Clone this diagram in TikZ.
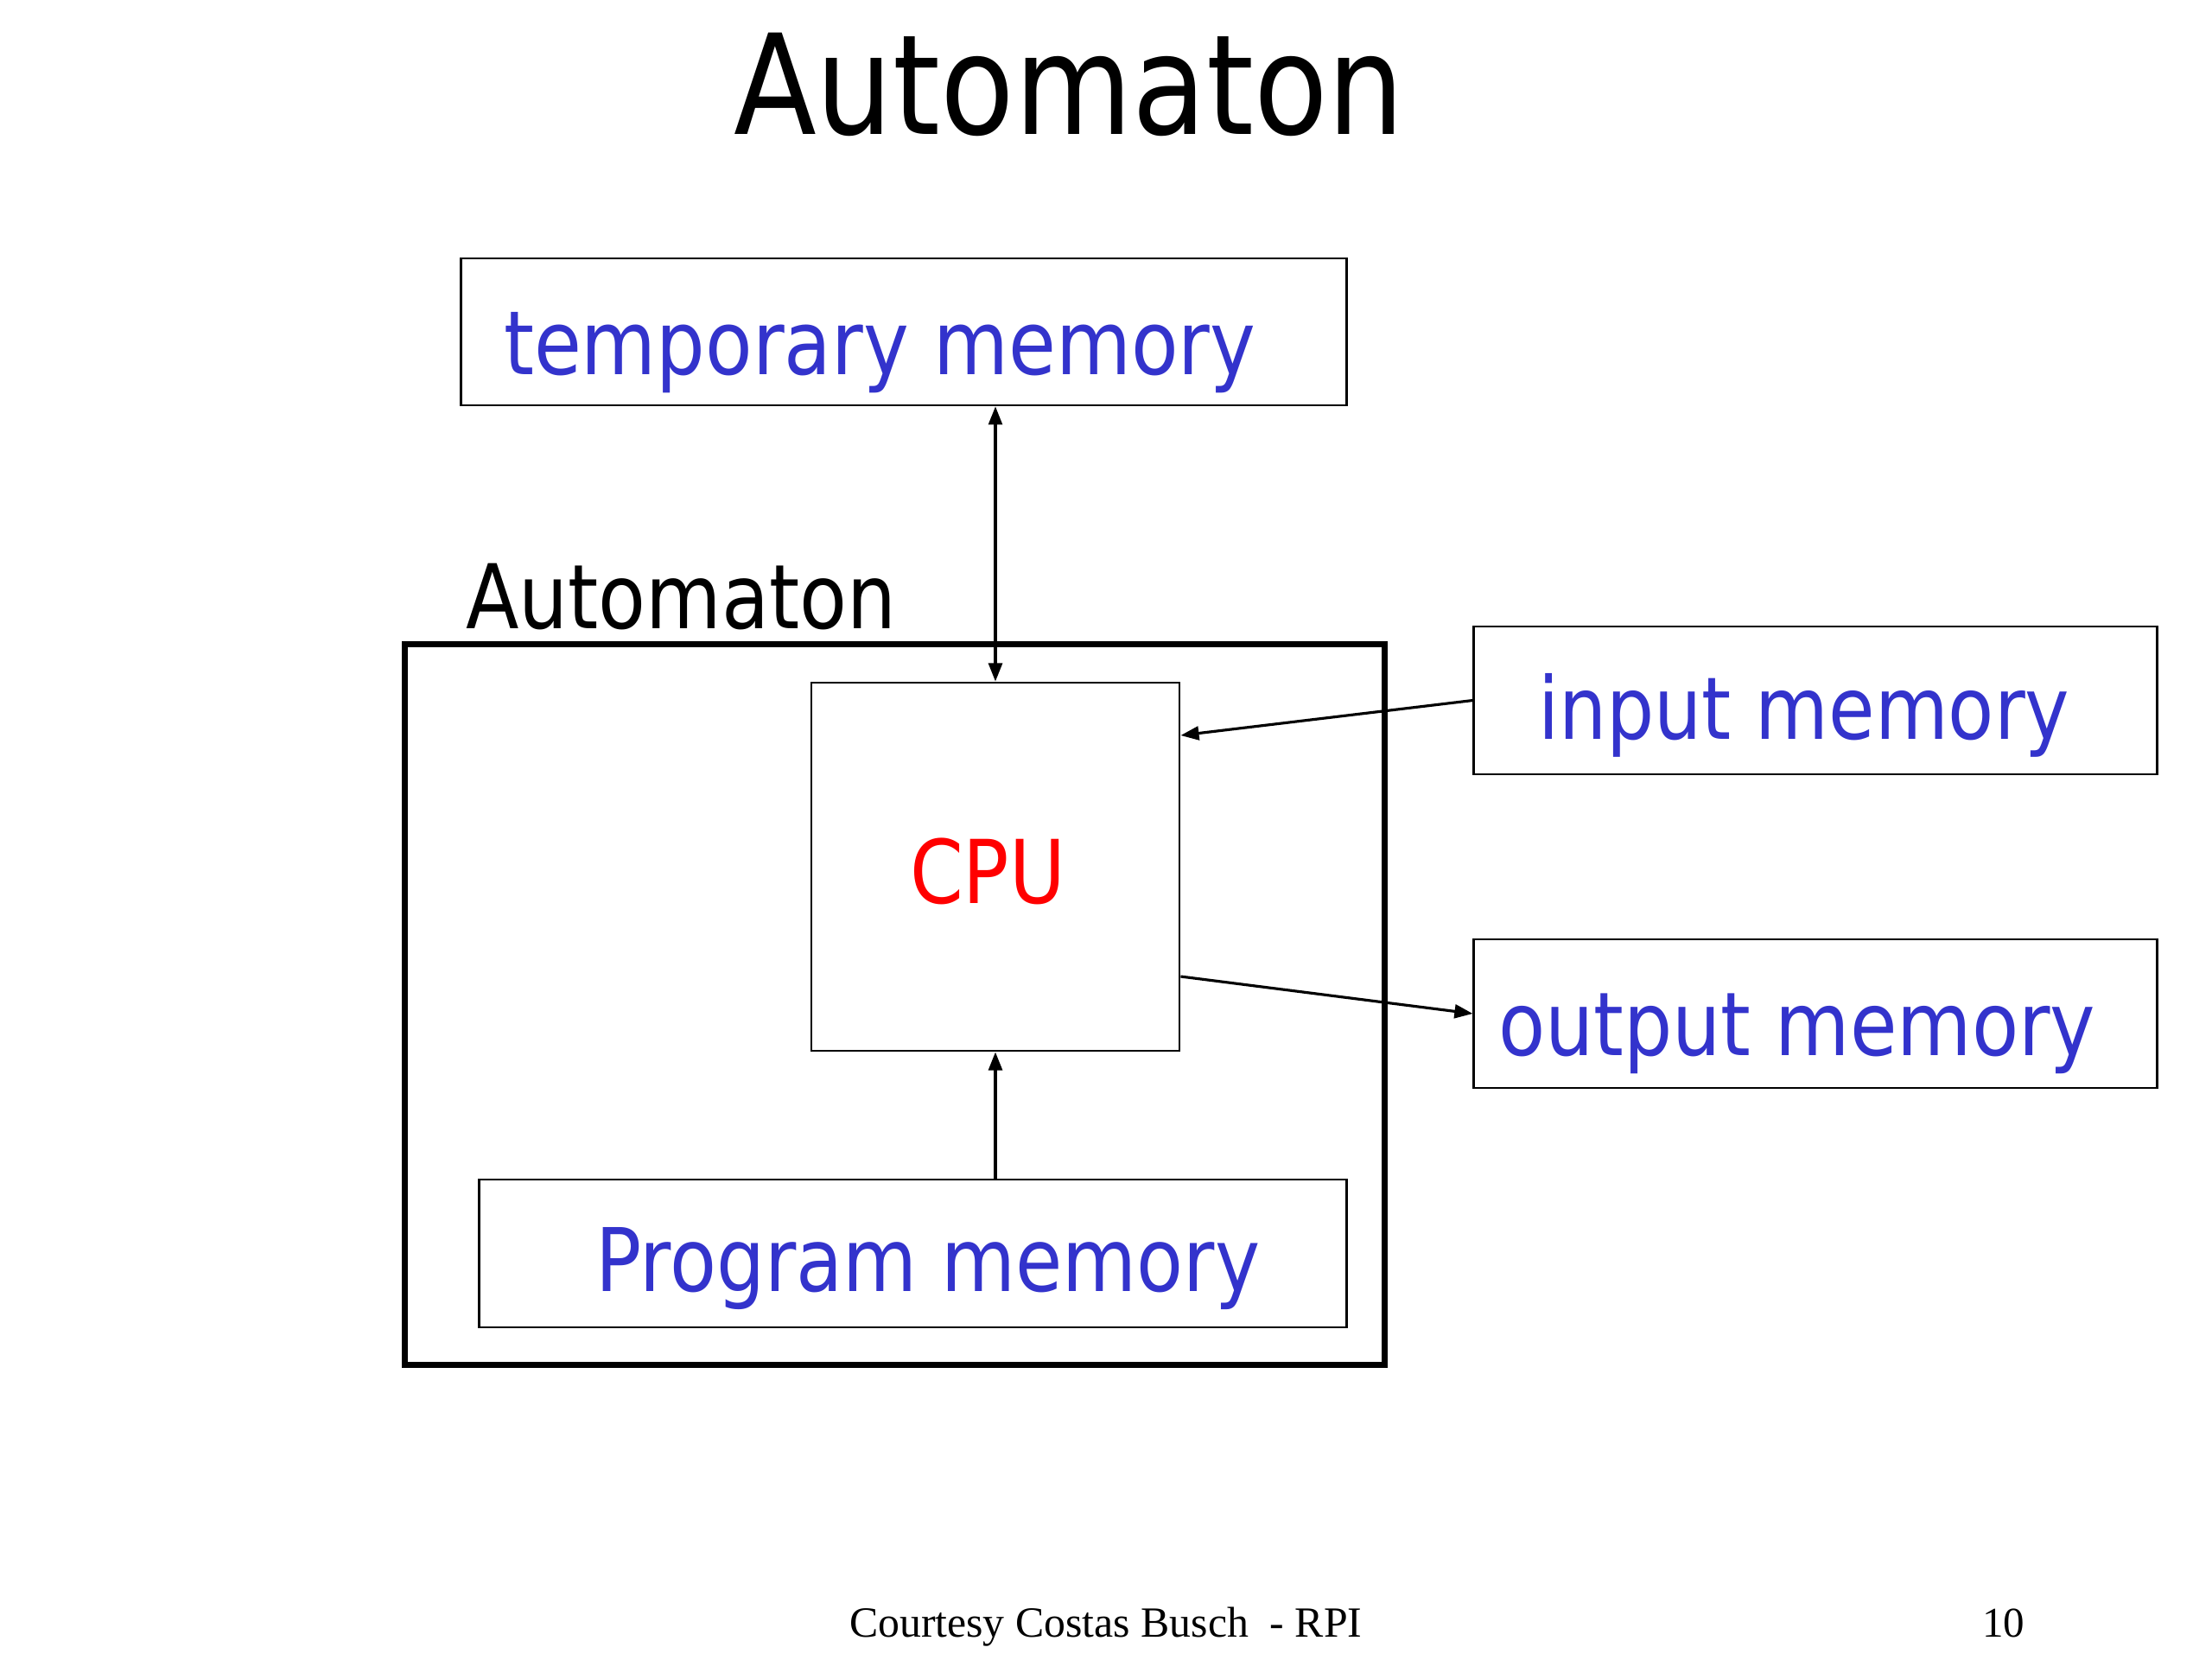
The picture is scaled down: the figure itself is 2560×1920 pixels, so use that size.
\documentclass[tikz,border=0pt]{standalone}
\usepackage{fontspec}
\usepackage{graphicx}
\setmainfont{DejaVu Sans}
\newfontfamily\footfont{Liberation Serif}
\usetikzlibrary{arrows.meta,calc}
\definecolor{memblue}{RGB}{51,51,204}
\newcommand{\fitw}[2]{\scalebox{1}[1.15]{\resizebox{#1}{!}{#2}}}
\newcommand{\fitf}[2]{\resizebox{#1}{!}{#2}}
\begin{document}
\begin{tikzpicture}[x=0.01cm,y=-0.01cm,
  thinbox/.style={draw, line width=0.75pt, inner sep=0pt},
  thickbox/.style={draw, line width=2pt, inner sep=0pt},
  lbl/.style={anchor=base west, inner sep=0pt, outer sep=0pt},
  conn/.style={line width=0.9pt, -{Triangle[length=6pt,width=4.5pt]}},
  conn2/.style={line width=0.9pt, {Triangle[length=6pt,width=4.5pt]}-{Triangle[length=6pt,width=4.5pt]}}]
\fill[white] (0,0) rectangle (2560,1920);
\useasboundingbox (0,0) rectangle (2560,1920);
% title
\node[lbl] (title) at (849,155) {\fitw{7.76cm}{Automaton}};
% boxes
\node[thinbox, minimum width=10.24cm, minimum height=1.70cm] (temp) at (1046,384) {};
\node[thickbox, minimum width=11.33cm, minimum height=8.33cm] (auto) at (1035.5,1162.5) {};
\node[thinbox, minimum width=4.26cm, minimum height=4.26cm] (cpu) at (1152,1003) {};
\node[thinbox, minimum width=7.90cm, minimum height=1.71cm] (input) at (2101,810.5) {};
\node[thinbox, minimum width=7.90cm, minimum height=1.72cm] (output) at (2101,1173) {};
\node[thinbox, minimum width=10.03cm, minimum height=1.71cm] (prog) at (1056.5,1450.5) {};
% texts
\node[lbl, text=memblue] (ttemp) at (583,433) {\fitw{8.70cm}{temporary memory}};
\node[lbl] (tauto) at (539,727) {\fitw{4.98cm}{Automaton}};
\node[lbl, text=red] (tcpu) at (1053,1045) {\fitw{1.80cm}{CPU}};
\node[lbl, text=memblue] (tinput) at (1780,855) {\fitw{6.15cm}{input memory}};
\node[lbl, text=memblue] (toutput) at (1734,1221) {\fitw{6.91cm}{output memory}};
\node[lbl, text=memblue] (tprog) at (689,1494) {\fitw{7.69cm}{Program memory}};
% footer
\node[lbl] (foot) at (983,1894) {\fitf{5.93cm}{\footfont Courtesy Costas Busch\ \ - RPI}};
\node[lbl] (page) at (2294,1894) {\fitf{0.49cm}{\footfont 10}};
% connectors
\draw[conn2] (cpu.north |- temp.south) -- (cpu.north);
\draw[conn] (input.west) -- ($(cpu.east)+(0,-152)$);
\coordinate (cpuout) at ($(cpu.east)+(0,127)$);
\draw[conn] (cpuout) -- (output.west);
\draw[conn] (cpu.south |- prog.north) -- (cpu.south);
\end{tikzpicture}
\end{document}
